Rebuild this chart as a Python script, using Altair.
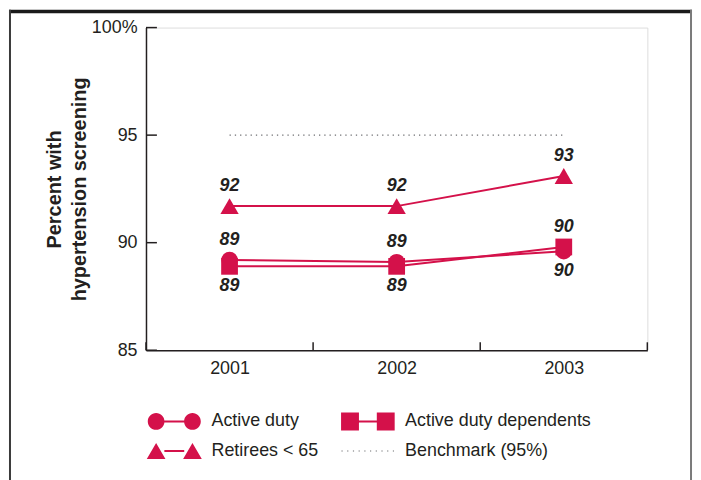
import altair as alt
import pandas as pd

# ---------------- data ----------------
years = [2001, 2002, 2003]
series_names = ["Active duty", "Retirees < 65", "Active duty dependents", "Benchmark (95%)"]
active_duty = [89.2, 89.1, 89.6]
active_duty_dependents = [88.9, 88.9, 89.8]
retirees_under_65 = [91.7, 91.7, 93.1]
benchmark_value = 95
y_tick_values = [85, 90, 95, 100]
y_domain = [85, 100]

# ---------------- style ----------------
CRIMSON = "#d4114a"
INK = "#231f20"
DOTGRAY = "#6d6e71"
FONT = "Liberation Sans"
W, H = 505, 325

series_values = {
    "Active duty": active_duty,
    "Active duty dependents": active_duty_dependents,
    "Retirees < 65": retirees_under_65,
}
rows = []
for name, vals in series_values.items():
    for yr, v in zip(years, vals):
        rows.append({"series": name, "year": yr, "value": v})
df = pd.DataFrame(rows)
# the lowest series in each year gets its label below the marker
df["below"] = df.groupby("year")["value"].rank(method="first") == 1
df["label"] = df["value"].round(0).astype(int).astype(str)

bench_df = pd.DataFrame([{"series": "Benchmark (95%)", "year": years[0], "year2": years[-1], "value": benchmark_value}])
legend_df = pd.concat([df[["series", "year", "value"]], bench_df[["series", "year", "value"]]], ignore_index=True)

edges = [y - 0.5 for y in years] + [years[-1] + 0.5]
xtick_df = pd.DataFrame({"edge": edges})
ytick_df = pd.DataFrame({"tick": y_tick_values})

x_scale = alt.Scale(domain=[edges[0], edges[-1]], nice=False, zero=False)
y_scale = alt.Scale(domain=y_domain, nice=False, zero=False)

x_axis = alt.Axis(values=years, format="d", tickSize=0, labelPadding=9, grid=False,
                  domainColor=INK, domainWidth=1.5, labelFont=FONT, labelFontSize=18,
                  labelColor=INK, title=None, labelFlush=False)
y_axis = alt.Axis(values=y_tick_values, tickSize=0, labelPadding=9, grid=False,
                  domainColor=INK, domainWidth=1.5, labelFont=FONT, labelFontSize=18,
                  labelColor=INK, labelExpr="datum.value == 100 ? '100%' : datum.label",
                  title=["Percent with", "hypertension screening"], titleFont=FONT,
                  titleFontSize=20, titleFontWeight="bold", titleColor=INK, titleX=-92,
                  titleY=H / 2, titleAngle=-90, titleAlign="center", titleBaseline="middle",
                  titleLineHeight=25)

def X(field):
    return alt.X(field, type="quantitative", scale=x_scale, axis=x_axis)

def Y(field):
    return alt.Y(field, type="quantitative", scale=y_scale, axis=y_axis)

# ---------------- frame (decoration) ----------------
frame_top = alt.Chart(bench_df).mark_rule(color="#1a1a1a", strokeWidth=3.5).encode(
    x=alt.value(-138), x2=alt.value(550), y=alt.value(-16.2))
frame_left = alt.Chart(bench_df).mark_rule(color="#3a3a3a", strokeWidth=2).encode(
    x=alt.value(-137), y=alt.value(-18), y2=alt.value(H + 140))
frame_right = alt.Chart(bench_df).mark_rule(color="#7a7a7a", strokeWidth=2).encode(
    x=alt.value(549), y=alt.value(-18), y2=alt.value(H + 140))

# inward ticks
yticks = alt.Chart(ytick_df).mark_rule(color=INK, strokeWidth=1.5).encode(
    y=Y("tick"), x=alt.value(0), x2=alt.value(11))
xticks = alt.Chart(xtick_df).mark_rule(color=INK, strokeWidth=1.5).encode(
    x=X("edge"), y=alt.value(H), y2=alt.value(H - 8))

bench = alt.Chart(bench_df).mark_rule(color=DOTGRAY, strokeWidth=1.3, strokeDash=[1.3, 4]).encode(
    x=X("year"), x2="year2", y=Y("value"))

lines = alt.Chart(df).mark_line(color=CRIMSON, strokeWidth=2).encode(
    x=X("year"), y=Y("value"), detail="series:N", order="year:Q")

marker_shapes = {"Active duty": ("circle", 270), "Active duty dependents": ("square", 285),
                 "Retirees < 65": ("triangle-up", 340)}
point_layers = []
for name, (shp, sz) in marker_shapes.items():
    point_layers.append(
        alt.Chart(df).transform_filter(alt.datum.series == name)
        .mark_point(shape=shp, size=sz, filled=True, color=CRIMSON, opacity=1)
        .encode(x=X("year"), y=Y("value")))

text_above = alt.Chart(df).transform_filter("!datum.below").mark_text(
    font=FONT, fontSize=18, fontWeight="bold", fontStyle="italic", color=INK,
    baseline="middle", dy=-20).encode(x=X("year"), y=Y("value"), text="label:N")
text_below = alt.Chart(df).transform_filter("datum.below").mark_text(
    font=FONT, fontSize=18, fontWeight="bold", fontStyle="italic", color=INK,
    baseline="middle", dy=20).encode(x=X("year"), y=Y("value"), text="label:N")

# ---------------- legend symbols (custom paths; unit = S px) ----------------
S = 13.5  # symbol layout half-size; the drawn path extends to +-27 px

def f(v):
    return f"{v / S:.4f}"

def circ(cx, r):
    return (f"M{f(cx + r)},0A{f(r)},{f(r)} 0 1,1 {f(cx - r)},0"
            f"A{f(r)},{f(r)} 0 1,1 {f(cx + r)},0Z")

def rect(x0, x1, y0, y1):
    return f"M{f(x0)},{f(y0)}L{f(x1)},{f(y0)}L{f(x1)},{f(y1)}L{f(x0)},{f(y1)}Z"

def tri(cx, hw, hh):
    return f"M{f(cx)},{f(-hh)}L{f(cx + hw)},{f(hh)}L{f(cx - hw)},{f(hh)}Z"

legend_paths = {
    "Active duty": circ(-18.3, 8.4) + rect(-10, 10, -1, 1) + circ(18.3, 8.4),
    "Retirees < 65": tri(-18.3, 9.4, 8) + rect(-10, 10, -1, 1) + tri(18.3, 9.4, 8),
    "Active duty dependents": rect(-27, -9, -9, 9) + rect(-9, 9, -1, 1) + rect(9, 27, -9, 9),
    "Benchmark (95%)": "".join(rect(-26 + i * 5.75 - 0.6, -26 + i * 5.75 + 0.6, -0.6, 0.6) for i in range(10)),
}
legend_colors = {"Active duty": CRIMSON, "Retirees < 65": CRIMSON,
                 "Active duty dependents": CRIMSON, "Benchmark (95%)": DOTGRAY}

legend = alt.Legend(orient="none", legendX=15, legendY=383, columns=2, title=None,
                    symbolSize=(2 * S) ** 2, symbolStrokeWidth=0, symbolOpacity=1,
                    labelFont=FONT, labelFontSize=18, labelColor=INK, labelOffset=24,
                    columnPadding=22, rowPadding=7, padding=0, labelLimit=400)
legend_layer = alt.Chart(legend_df).mark_point(filled=True, opacity=0).encode(
    x=X("year"), y=Y("value"),
    color=alt.Color("series:N", scale=alt.Scale(domain=series_names,
                    range=[legend_colors[s] for s in series_names]), legend=legend),
    shape=alt.Shape("series:N", scale=alt.Scale(domain=series_names,
                    range=[legend_paths[s] for s in series_names]), legend=legend),
)

chart = alt.layer(
    frame_top, frame_left, frame_right, bench, lines, *point_layers,
    text_above, text_below, yticks, xticks, legend_layer,
).properties(
    width=W, height=H,
    autosize=alt.AutoSizeParams(type="none"),
    padding={"left": 139, "top": 18, "right": 46, "bottom": 129},
).configure_view(stroke=None).configure(background="white")

chart.save("out.html", embed_options={"renderer": "svg", "actions": False})
